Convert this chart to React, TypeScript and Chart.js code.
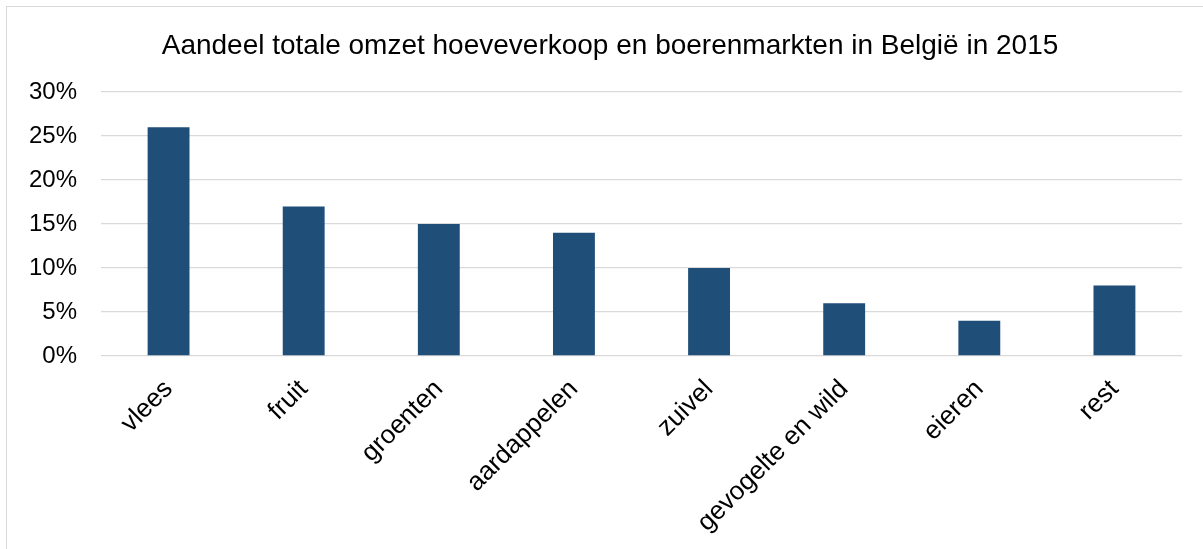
import React, { useEffect, useRef } from "react";
import { Chart, registerables } from "chart.js";

Chart.register(...registerables);

const categories = ["vlees", "fruit", "groenten", "aardappelen", "zuivel", "gevogelte en wild", "eieren", "rest"];
const shares = [26, 17, 15, 14, 10, 6, 4, 8];
const yTicks = [0, 5, 10, 15, 20, 25, 30];
const title = "Aandeel totale omzet hoeveverkoop en boerenmarkten in België in 2015";

const FONT = "'Liberation Sans', Arial, sans-serif";

const titlePlugin = {
  id: "centeredTitle",
  afterDraw(chart: any) {
    const ctx = chart.ctx;
    ctx.save();
    ctx.font = `28px ${FONT}`;
    ctx.fillStyle = "#000";
    ctx.textAlign = "center";
    ctx.textBaseline = "alphabetic";
    ctx.fillText(title, 610, 54);
    ctx.restore();
  },
};

export default function App() {
  const ref = useRef<HTMLCanvasElement | null>(null);
  useEffect(() => {
    if (!ref.current) return;
    const chart = new Chart(ref.current, {
      type: "bar",
      data: {
        labels: categories,
        datasets: [
          {
            data: shares,
            backgroundColor: "#1F4E79",
            barPercentage: 0.31,
            categoryPercentage: 1,
          },
        ],
      },
      options: {
        animation: false,
        responsive: false,
        devicePixelRatio: 1,
        layout: { padding: { left: 0, right: 21, top: 92, bottom: 0 } },
        plugins: {
          legend: { display: false },
          tooltip: { enabled: false },
          title: { display: false },
        },
        scales: {
          x: {
            grid: { display: false },
            border: { display: false },
            ticks: {
              color: "#000",
              font: { family: FONT, size: 26 },
              minRotation: 45,
              maxRotation: 45,
              autoSkip: false,
              padding: 10,
            },
            afterFit: (s: any) => {
              s.height = 193;
            },
          },
          y: {
            min: 0,
            max: 30,
            afterBuildTicks: (s: any) => {
              s.ticks = yTicks.map((v) => ({ value: v }));
            },
            grid: { color: "#d9d9d9", lineWidth: 1.3, drawTicks: false },
            border: { display: false },
            ticks: {
              color: "#000",
              font: { family: FONT, size: 24 },
              padding: 24,
              callback: (v: any) => v + "%",
            },
            afterFit: (s: any) => {
              s.width = 101;
            },
          },
        },
      },
      plugins: [titlePlugin],
    });
    return () => chart.destroy();
  }, []);
  return (
    <div>
      <div
        style={{
          position: "fixed",
          left: 6,
          top: 6,
          width: 1400,
          height: 800,
          borderLeft: "1px solid #d9d9d9",
          borderTop: "1px solid #d9d9d9",
        }}
      />
      <canvas
        ref={ref}
        width={1203}
        height={549}
        style={{ position: "fixed", left: 0, top: 0, width: 1203, height: 549 }}
      />
    </div>
  );
}
